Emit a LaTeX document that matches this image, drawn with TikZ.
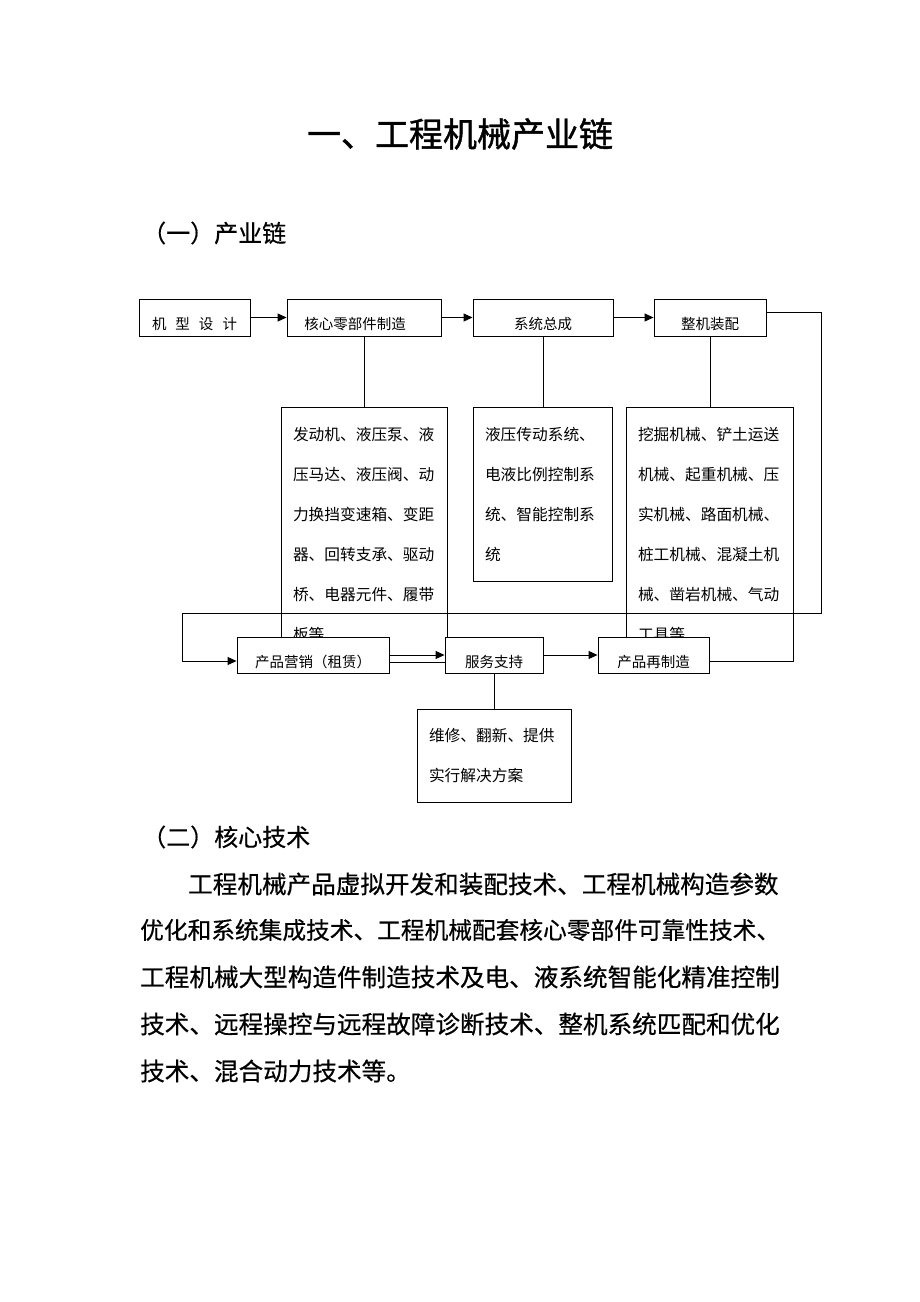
\documentclass[tikz,border=0pt]{standalone}
\usepackage{fontspec}
\setmainfont{Noto Sans CJK SC}
\newfontfamily\titlefont{Noto Sans CJK SC}[FakeBold=1.2]
\newfontfamily\bodyfont{Noto Sans CJK SC}[FakeBold=0.5]
\usetikzlibrary{arrows.meta}

\tikzset{
  stage/.style={draw, fill=white, line width=0.9pt, minimum height=37pt, inner sep=0pt,
    font=\fontsize{14.5}{14.5}\selectfont},
  detail/.style={draw, line width=0.9pt, inner xsep=12pt, inner ysep=0pt, align=left,
    font=\fontsize{15.7}{40}\selectfont},
  heading/.style={anchor=west, inner sep=0pt, font=\bodyfont\fontsize{24}{24}\selectfont},
  body/.style={anchor=west, inner sep=0pt},
  flow/.style={line width=0.9pt, -{Triangle[length=9pt,width=8pt]}},
  link/.style={line width=0.9pt},
}

\begin{document}
\begin{tikzpicture}[x=1pt, y=-1pt]
    \newcommand{\low}[1]{\raisebox{-7pt}[\height][\depth]{#1}}
    \newcommand{\bodysize}[1]{\bodyfont\fontsize{#1}{#1}\selectfont}
    \path[use as bounding box, fill=white] (0,0) rectangle (920,1302);

    \node[font=\titlefont\fontsize{34}{34}\selectfont] (title) at (460,134) {一、工程机械产业链};
    \node[heading] (chain) at (142,233) {（一）产业链};

  % chain, top row
    \node[stage, minimum width=111pt] (design) at (194.5,317.5)
      {\low{机\hspace{9pt}型\hspace{9pt}设\hspace{9pt}计}};
    \node[stage, minimum width=154pt] (core) at (364,317.5) {\low{核心零部件制造\hspace{18pt}}};
    \node[stage, minimum width=140pt] (system) at (543,317.5) {\low{系统总成}};
    \node[stage, minimum width=112pt] (assembly) at (710,317.5) {\low{整机装配}};

  % what each step covers
    \node[detail, text width=142pt, minimum height=255pt] (parts) at (364,534.5)
      {发动机、液压泵、液\\压马达、液压阀、动\\力换挡变速箱、变距\\器、回转支承、驱动\\桥、电器元件、履带\\板等};
    \node[detail, text width=115pt, minimum height=174pt] (systems) at (542.5,494)
      {液压传动系统、\\电液比例控制系\\统、智能控制系\\统};
    \node[detail, text width=143pt, minimum height=254pt] (machines) at (709.5,534)
      {挖掘机械、铲土运送\\机械、起重机械、压\\实机械、路面机械、\\桩工机械、混凝土机\\械、凿岩机械、气动\\工具等};

  % chain, bottom row
    \node[stage, minimum width=152pt, minimum height=36pt] (market) at (313,655) {\low{产品营销（租赁）}};
    \node[stage, minimum width=98pt, minimum height=36pt] (service) at (494,655) {\low{服务支持}};
    \node[stage, minimum width=111pt, minimum height=36pt] (reman) at (653.5,655) {\low{产品再制造}};
    \node[detail, text width=130pt, minimum height=93pt] (repair) at (494,755.5)
      {维修、翻新、提供\\实行解决方案};

    \draw[flow] (design) -- (core);
    \draw[flow] (core) -- (system);
    \draw[flow] (system) -- (assembly);
    \draw[link] (core) -- (parts);
    \draw[link] (system.south) -- (system.south |- systems.north);
    \draw[link] (assembly.south) -- (assembly.south |- machines.north);

    \coordinate (backR) at (821,613);
    \coordinate (backL) at (182,613);
    \draw[flow] ([yshift=5.5pt]assembly.east) -| (backR) -- (backL) |- ([yshift=-6pt]market.west);
    \draw[flow] (market) -- (service);
    \draw[flow] (service) -- (reman);
    \draw[link] (service) -- (repair);

  % core technology
    \node[heading] (tech) at (142,837) {（二）核心技术};
    \node[body, font=\bodysize{24.6}] (line1) at (188,884) {工程机械产品虚拟开发和装配技术、工程机械构造参数};
    \node[body, font=\bodysize{23.7}] (line2) at (140,930) {优化和系统集成技术、工程机械配套核心零部件可靠性技术、};
    \node[body, font=\bodysize{24.6}] (line3) at (140,977) {工程机械大型构造件制造技术及电、液系统智能化精准控制};
    \node[body, font=\bodysize{24.6}] (line4) at (140,1024) {技术、远程操控与远程故障诊断技术、整机系统匹配和优化};
    \node[body, font=\bodysize{24.6}] (line5) at (140,1071) {技术、混合动力技术等。};

\end{tikzpicture}
\end{document}
